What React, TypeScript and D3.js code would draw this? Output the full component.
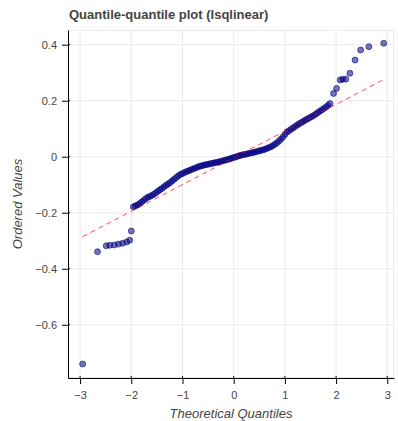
import React, { useRef, useEffect } from 'react';
import * as d3 from 'd3';

// theoretical quantiles (x) and ordered values (y)
const theoretical = [
    -2.95, -2.66, -2.49, -2.42, -2.33, -2.25, -2.17, -2.09, -2.03, -2.0,
    -1.96, -1.92, -1.88, -1.84, -1.8, -1.76, -1.72, -1.68, -1.64, -1.6,
    -1.56, -1.52, -1.48, -1.44, -1.4, -1.36, -1.32, -1.28, -1.24, -1.2,
    -1.16, -1.12, -1.08, -1.04, -1.0, -0.96, -0.92, -0.88, -0.84, -0.8,
    -0.76, -0.72, -0.68, -0.64, -0.6, -0.56, -0.52, -0.48, -0.44, -0.4,
    -0.36, -0.32, -0.28, -0.24, -0.2, -0.16, -0.12, -0.08, -0.04, 0.0,
    0.04, 0.08, 0.12, 0.16, 0.2, 0.24, 0.28, 0.32, 0.36, 0.4,
    0.44, 0.48, 0.52, 0.56, 0.6, 0.64, 0.68, 0.72, 0.76, 0.8,
    0.84, 0.88, 0.92, 0.96, 1.0, 1.04, 1.08, 1.12, 1.16, 1.2,
    1.24, 1.28, 1.32, 1.36, 1.4, 1.44, 1.48, 1.52, 1.56, 1.6,
    1.64, 1.68, 1.72, 1.76, 1.8, 1.84, 1.88,
    1.95, 2.01, 2.08, 2.13, 2.19, 2.27, 2.37, 2.48, 2.64, 2.93,
];

const ordered = [
    -0.74, -0.339, -0.318, -0.316, -0.315, -0.312, -0.309, -0.304, -0.298, -0.265,
    -0.179, -0.176, -0.172, -0.168, -0.162, -0.156, -0.15, -0.145, -0.142, -0.138,
    -0.134, -0.129, -0.123, -0.118, -0.113, -0.107, -0.102, -0.097, -0.092, -0.086,
    -0.08, -0.074, -0.068, -0.063, -0.06, -0.056, -0.053, -0.05, -0.047, -0.044,
    -0.041, -0.038, -0.035, -0.033, -0.031, -0.029, -0.028, -0.026, -0.024, -0.023,
    -0.021, -0.02, -0.018, -0.016, -0.014, -0.012, -0.01, -0.008, -0.005, -0.003,
    -0.001, 0.002, 0.004, 0.006, 0.008, 0.009, 0.011, 0.013, 0.014, 0.016,
    0.018, 0.02, 0.022, 0.024, 0.026, 0.029, 0.032, 0.035, 0.039, 0.044,
    0.049, 0.055, 0.062, 0.07, 0.079, 0.088, 0.093, 0.098, 0.103, 0.108,
    0.113, 0.118, 0.122, 0.126, 0.131, 0.135, 0.139, 0.143, 0.147, 0.152,
    0.157, 0.162, 0.167, 0.172, 0.177, 0.183, 0.19,
    0.226, 0.244, 0.274, 0.277, 0.277, 0.298, 0.345, 0.381, 0.393, 0.405,
];

// least squares fit line
const fitSlope = 0.0954;
const fitIntercept = -0.004;

const xTicks = [-3, -2, -1, 0, 1, 2, 3];
const yTicks = [-0.6, -0.4, -0.2, 0, 0.2, 0.4];

const W = 398;
const H = 421;
const frame = { left: 68, right: 394, top: 30, bottom: 378 };
const font = '"Liberation Sans", Arial, Helvetica, sans-serif';
const textColor = '#444';

const App: React.FC = () => {
    const svgRef = useRef<SVGSVGElement | null>(null);

    useEffect(() => {
        if (!svgRef.current) return;
        const svg = d3.select(svgRef.current);
        svg.selectAll('*').remove();

        const x = d3
            .scaleLinear()
            .domain([-3.236, 3.131])
            .range([frame.left, frame.right]);
        const y = d3
            .scaleLinear()
            .domain([-0.79, 0.4525])
            .range([frame.bottom, frame.top]);

        // grid
        const grid = svg.append('g');
        grid.selectAll('line.gx')
            .data(xTicks)
            .enter()
            .append('line')
            .attr('x1', (d) => x(d))
            .attr('x2', (d) => x(d))
            .attr('y1', frame.top)
            .attr('y2', frame.bottom)
            .attr('stroke', '#ebebeb');
        grid.selectAll('line.gy')
            .data(yTicks)
            .enter()
            .append('line')
            .attr('x1', frame.left)
            .attr('x2', frame.right)
            .attr('y1', (d) => y(d))
            .attr('y2', (d) => y(d))
            .attr('stroke', '#ebebeb');
        grid.append('rect')
            .attr('x', frame.left + 0.5)
            .attr('y', frame.top + 0.5)
            .attr('width', frame.right - frame.left - 1)
            .attr('height', frame.bottom - frame.top - 1)
            .attr('fill', 'none')
            .attr('stroke', '#ebebeb');

        // points
        const pts = theoretical.map((t, i) => [t, ordered[i]] as [number, number]);
        svg.append('g')
            .selectAll('circle')
            .data(pts)
            .enter()
            .append('circle')
            .attr('cx', (d) => x(d[0]))
            .attr('cy', (d) => y(d[1]))
            .attr('r', 3)
            .attr('fill', 'navy')
            .attr('fill-opacity', 0.55)
            .attr('stroke', 'navy')
            .attr('stroke-opacity', 0.55)
            .attr('stroke-width', 1);

        // fit line
        const [tMin, tMax] = d3.extent(theoretical) as [number, number];
        const line = d3
            .line<number>()
            .x((d) => x(d))
            .y((d) => y(fitIntercept + fitSlope * d));
        svg.append('path')
            .datum([tMin, tMax])
            .attr('d', line)
            .attr('fill', 'none')
            .attr('stroke', 'red')
            .attr('stroke-opacity', 0.7)
            .attr('stroke-width', 1)
            .attr('stroke-dasharray', '5 4');

        // axes
        const fmt = d3.format('');
        const xAxis = svg
            .append('g')
            .attr('transform', `translate(0,${frame.bottom})`);
        xAxis.call(
            d3
                .axisBottom(x)
                .tickValues(
                    x.ticks(30).filter((d) => !xTicks.includes(Math.round(d * 10) / 10)),
                )
                .tickSize(4)
                .tickSizeOuter(0)
                .tickFormat(() => ''),
        );
        xAxis.call(
            d3
                .axisBottom(x)
                .tickValues(xTicks)
                .tickSize(6)
                .tickSizeOuter(0)
                .tickPadding(7)
                .tickFormat((d) => fmt(d as number)),
        );
        xAxis.selectAll('line.inner')
            .data(xTicks)
            .enter()
            .append('line')
            .attr('x1', (d) => x(d))
            .attr('x2', (d) => x(d))
            .attr('y1', 0)
            .attr('y2', -2)
            .attr('stroke', '#000');

        const yMinor = d3
            .range(-19, 12)
            .map((i) => Math.round(i * 4) / 100)
            .filter((d) => !yTicks.some((t) => Math.abs(t - d) < 1e-6));
        const yAxis = svg
            .append('g')
            .attr('transform', `translate(${frame.left},0)`);
        yAxis.call(
            d3
                .axisLeft(y)
                .tickValues(yMinor)
                .tickSize(4)
                .tickSizeOuter(0)
                .tickFormat(() => ''),
        );
        yAxis.call(
            d3
                .axisLeft(y)
                .tickValues(yTicks)
                .tickSize(6)
                .tickSizeOuter(0)
                .tickPadding(5)
                .tickFormat((d) => fmt(d as number)),
        );
        yAxis.selectAll('line.inner')
            .data(yTicks)
            .enter()
            .append('line')
            .attr('x1', 0)
            .attr('x2', 2)
            .attr('y1', (d) => y(d))
            .attr('y2', (d) => y(d))
            .attr('stroke', '#000');

        svg.selectAll('.tick text')
            .attr('font-family', font)
            .attr('font-size', 11)
            .attr('fill', textColor);
        svg.selectAll('.domain').attr('stroke', '#000');

        // labels
        svg.append('text')
            .attr('x', (frame.left + frame.right) / 2)
            .attr('y', 418)
            .attr('text-anchor', 'middle')
            .attr('font-family', font)
            .attr('font-size', 13)
            .attr('font-style', 'italic')
            .attr('fill', textColor)
            .text('Theoretical Quantiles');
        svg.append('text')
            .attr('transform', `translate(22,${(frame.top + frame.bottom) / 2}) rotate(-90)`)
            .attr('text-anchor', 'middle')
            .attr('font-family', font)
            .attr('font-size', 13)
            .attr('font-style', 'italic')
            .attr('fill', textColor)
            .text('Ordered Values');
        svg.append('text')
            .attr('x', 69)
            .attr('y', 19)
            .attr('font-family', font)
            .attr('font-size', 13)
            .attr('font-weight', 'bold')
            .attr('fill', textColor)
            .text('Quantile-quantile plot (lsqlinear)');
    }, []);

    return (
        <svg
            ref={svgRef}
            width={W}
            height={H}
            style={{ position: 'absolute', left: 0, top: 0, background: '#fff' }}
        ></svg>
    );
};

export default App;
